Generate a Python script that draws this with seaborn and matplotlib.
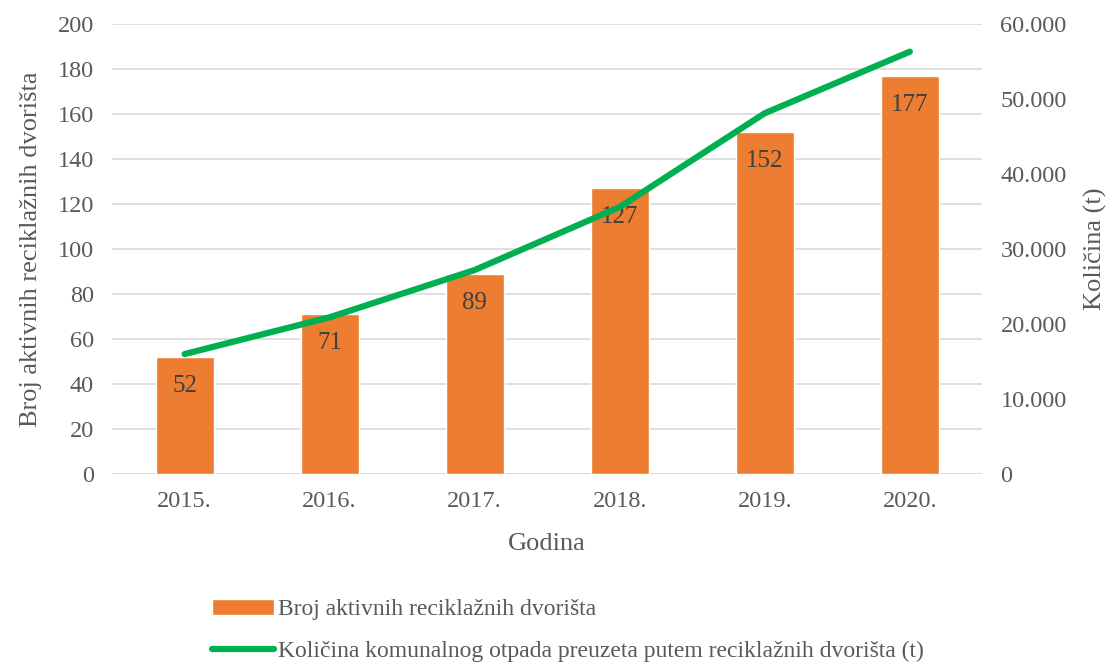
import pandas as pd
import numpy as np
import matplotlib.pyplot as plt
import seaborn as sns

# data
godine = ['2015.', '2016.', '2017.', '2018.', '2019.', '2020.']
broj_dvorista = [52, 71, 89, 127, 152, 177]
kolicina_t = [16000, 20900, 27200, 35600, 48100, 56300]

df = pd.DataFrame({'Godina': godine, 'Broj': broj_dvorista, 'Kolicina': kolicina_t})

sns.set_theme(style='white')
plt.rcParams['font.family'] = ['Liberation Serif', 'DejaVu Serif']
grey = '#595959'

fig = plt.figure(figsize=(11.1, 6.64), dpi=100)
ax = fig.add_axes([0.101, 0.286, 0.784, 0.678])

sns.barplot(data=df, x='Godina', y='Broj', color='#ED7D31', width=0.4,
            saturation=1, ax=ax, zorder=2, label='Broj aktivnih reciklažnih dvorišta')
ax.get_legend().remove()
ax.set_ylim(0, 200)
ax.set_yticks(np.arange(0, 201, 20))
ax.yaxis.grid(True, color='#D9D9D9', linewidth=1.2, zorder=0)
ax.set_axisbelow(True)
for s in ax.spines.values():
    s.set_visible(False)
ax.axhline(0, color='#D9D9D9', linewidth=1.2, zorder=1)

# labels inside bars near top
for i, v in enumerate(broj_dvorista):
    ax.text(i, v - 8, str(v), ha='center', va='top', fontsize=18, color='#404040', zorder=5)

ax.set_ylabel('Broj aktivnih reciklažnih dvorišta', fontsize=19, color=grey, labelpad=11)
ax.set_xlabel('Godina', fontsize=19, color=grey, labelpad=15)
ax.tick_params(axis='x', labelsize=17.5, colors=grey, length=0, pad=12)
ax.tick_params(axis='y', labelsize=17.5, colors=grey, length=0, pad=13)

ax2 = ax.twinx()
sns.lineplot(data=df, x='Godina', y='Kolicina', color='#00B050', linewidth=4.5,
             ax=ax2, zorder=3, solid_capstyle='round',
             label='Količina komunalnog otpada preuzeta putem reciklažnih dvorišta (t)')
ax2.set_ylim(0, 60000)
ax2.set_yticks(np.arange(0, 60001, 10000))
ax2.set_yticklabels(['0' if t == 0 else f'{t // 1000}.000' for t in range(0, 60001, 10000)])
ax2.set_ylabel('Količina (t)', fontsize=19, color=grey, labelpad=12)
ax2.tick_params(axis='y', labelsize=17.5, colors=grey, length=0, pad=13)
for s in ax2.spines.values():
    s.set_visible(False)
ax2.grid(False)
ax2.get_legend().remove()
ax.set_xlim(-0.5, 5.5)

h1, l1 = ax.get_legend_handles_labels()
h2, l2 = ax2.get_legend_handles_labels()
fig.legend(h1 + h2, l1 + l2, loc='upper left', bbox_to_anchor=(0.172, 0.13),
           frameon=False, fontsize=17, labelcolor=grey, ncol=1,
           handlelength=2.6, handletextpad=0.2, labelspacing=0.85)

fig.savefig('out.png', dpi=100)
